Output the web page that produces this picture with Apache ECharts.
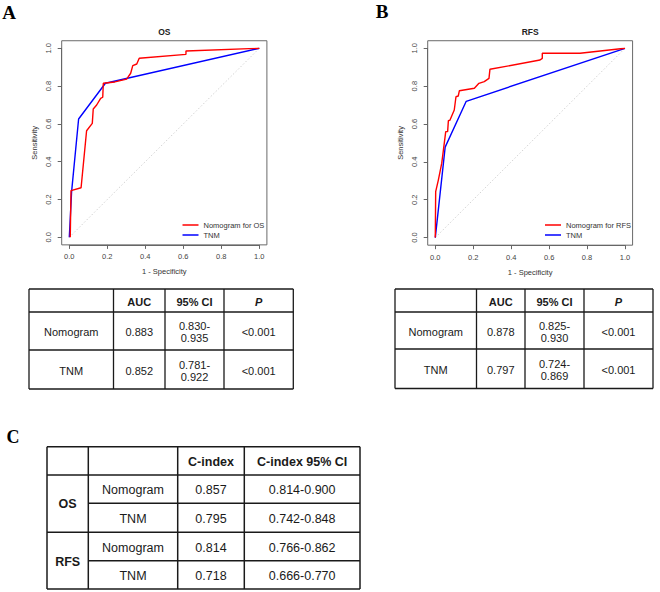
<!DOCTYPE html>
<html>
<head>
<meta charset="utf-8">
<script src="https://cdn.jsdelivr.net/npm/echarts@6/dist/echarts.min.js"></script>
<style>
  html, body { margin: 0; padding: 0; background: #fff; }
  #fig { width: 660px; height: 592px; }
</style>
</head>
<body>
<div id="fig"></div>
<script>
// ROC curves: [1 - specificity, sensitivity]
var osNomogram = [[0.005,0],[0.009,0.247],[0.062,0.262],[0.091,0.564],[0.121,0.603],[0.126,0.679],[0.144,0.700],[0.165,0.735],[0.176,0.741],[0.179,0.815],[0.240,0.822],[0.302,0.837],[0.323,0.868],[0.334,0.908],[0.355,0.917],[0.368,0.947],[0.614,0.968],[0.614,0.986],[1,1]];
var osTnm = [[0,0],[0.012,0.24],[0.049,0.626],[0.190,0.815],[1,1]];
var rfsNomogram = [[0,0],[0.002,0.243],[0.016,0.304],[0.034,0.393],[0.055,0.560],[0.065,0.560],[0.069,0.618],[0.077,0.620],[0.100,0.674],[0.109,0.744],[0.121,0.748],[0.127,0.776],[0.206,0.789],[0.230,0.815],[0.258,0.824],[0.283,0.841],[0.288,0.889],[0.552,0.938],[0.564,0.947],[0.564,0.974],[0.763,0.974],[1,1]];
var rfsTnm = [[0,0],[0.052,0.478],[0.163,0.720],[1,1]];
var chance = [[0,0],[1,1]];

// tables
var aucHeader = ['', 'AUC', '95% CI', 'P'];
var osAucRows = [
  ['Nomogram', '0.883', '0.830-\n0.935', '<0.001'],
  ['TNM', '0.852', '0.781-\n0.922', '<0.001']
];
var rfsAucRows = [
  ['Nomogram', '0.878', '0.825-\n0.930', '<0.001'],
  ['TNM', '0.797', '0.724-\n0.869', '<0.001']
];
var cHeader = ['', '', 'C-index', 'C-index 95% CI'];
var cGroups = ['OS', 'RFS'];
var cModels = ['Nomogram', 'TNM'];
var cValues = [
  ['0.857', '0.814-0.900'],
  ['0.795', '0.742-0.848'],
  ['0.814', '0.766-0.862'],
  ['0.718', '0.666-0.770']
];

var sans = '"Liberation Sans", Arial, sans-serif';
var serif = '"Liberation Serif", "Times New Roman", serif';
var ink = '#1a1a1a';

var chart = echarts.init(document.getElementById('fig'), null, { renderer: 'svg' });

// plot areas (data region 0..1) and R-style frame 4% wider
var plots = [
  { left: 69.3, top: 48.3, width: 190, height: 189, title: 'OS' },
  { left: 435.3, top: 48.3, width: 189.7, height: 189.3, title: 'RFS' }
];

function xAx(i) {
  return {
    gridIndex: i, type: 'value', min: 0, max: 1, interval: 0.2, offset: 7.6,
    name: '1 - Specificity', nameLocation: 'middle', nameGap: 23,
    nameTextStyle: { fontFamily: sans, fontSize: 7.5, color: '#333' },
    axisLine: { show: true, onZero: false, lineStyle: { color: '#666', width: 1 } },
    axisTick: { show: true, length: 4, lineStyle: { color: '#666' } },
    axisLabel: { margin: 8, fontFamily: sans, fontSize: 7.5, color: '#444',
      formatter: function (v) { return v.toFixed(1); } },
    splitLine: { show: false }
  };
}
function yAx(i) {
  return {
    gridIndex: i, type: 'value', min: 0, max: 1, interval: 0.2, offset: 7.6,
    name: 'Sensitivity', nameLocation: 'middle', nameGap: 23, nameRotate: 90,
    nameTextStyle: { fontFamily: sans, fontSize: 7.5, color: '#333' },
    axisLine: { show: true, onZero: false, lineStyle: { color: '#666', width: 1 } },
    axisTick: { show: true, length: 4, lineStyle: { color: '#666' } },
    axisLabel: { margin: 9, rotate: 90, fontFamily: sans, fontSize: 7.5, color: '#444',
      formatter: function (v) { return v.toFixed(1); } },
    splitLine: { show: false }
  };
}
function curve(name, data, i, color) {
  return {
    name: name, type: 'line', xAxisIndex: i, yAxisIndex: i, data: data,
    symbol: 'none', smooth: false, silent: true, z: 3,
    lineStyle: { color: color, width: 1.4 }, itemStyle: { color: color }
  };
}
function diag(i) {
  return {
    type: 'line', xAxisIndex: i, yAxisIndex: i, data: chance, symbol: 'none', silent: true, z: 1,
    lineStyle: { color: '#c8c8c8', width: 0.8, type: [1.5, 2] }
  };
}

var graphic = [];
function txt(x, y, s, opt) {
  opt = opt || {};
  graphic.push({
    type: 'text', x: x, y: y, silent: true,
    style: {
      text: s, fill: opt.fill || ink, fontFamily: opt.family || sans,
      fontSize: opt.size || 11, fontWeight: opt.weight || 'normal', fontStyle: opt.style || 'normal',
      align: opt.align || 'center', verticalAlign: 'middle', lineHeight: opt.lh || 12
    }
  });
}
function seg(x1, y1, x2, y2, w) {
  graphic.push({ type: 'line', silent: true, shape: { x1: x1, y1: y1, x2: x2, y2: y2 },
    style: { stroke: ink, lineWidth: w || 1.3 } });
}

// frames around the plots
plots.forEach(function (p) {
  var ex = p.width * 0.04, ey = p.height * 0.04;
  graphic.push({ type: 'rect', silent: true,
    shape: { x: p.left - ex, y: p.top - ey, width: p.width + 2 * ex, height: p.height + 2 * ey },
    style: { fill: 'none', stroke: '#6a6a6a', lineWidth: 1 } });
});

// panel letters
txt(9, 12, 'A', { family: serif, size: 19, weight: 'bold', fill: '#000' });
txt(382, 11, 'B', { family: serif, size: 19, weight: 'bold', fill: '#000' });
txt(13, 437, 'C', { family: serif, size: 18, weight: 'bold', fill: '#000' });

// AUC tables
function aucTable(cols, rows, data) {
  var i;
  for (i = 0; i < cols.length; i++) seg(cols[i], rows[0], cols[i], rows[rows.length - 1]);
  for (i = 0; i < rows.length; i++) seg(cols[0], rows[i], cols[cols.length - 1], rows[i]);
  for (i = 1; i < aucHeader.length; i++) {
    txt((cols[i] + cols[i + 1]) / 2, (rows[0] + rows[1]) / 2 + 1, aucHeader[i],
      { weight: 'bold', style: aucHeader[i] === 'P' ? 'italic' : 'normal' });
  }
  data.forEach(function (r, ri) {
    r.forEach(function (c, ci) {
      txt((cols[ci] + cols[ci + 1]) / 2, (rows[ri + 1] + rows[ri + 2]) / 2 + 1, c);
    });
  });
}
aucTable([29, 113.5, 165, 224, 293.3], [289, 312, 350, 389], osAucRows);
aucTable([395, 476.5, 525, 584, 653], [289, 312, 349, 388.5], rfsAucRows);

// C-index table
(function () {
  var cols = [47, 88.3, 177.7, 244.3, 360];
  var rows = [446.7, 475, 503.3, 532.3, 560.7, 589];
  var i;
  for (i = 0; i < cols.length; i++) seg(cols[i], rows[0], cols[i], rows[5], 1.5);
  [0, 1, 3, 5].forEach(function (k) { seg(cols[0], rows[k], cols[4], rows[k], 1.5); });
  [2, 4].forEach(function (k) { seg(cols[1], rows[k], cols[4], rows[k], 1.5); });
  for (i = 2; i < cHeader.length; i++) {
    txt((cols[i] + cols[i + 1]) / 2, (rows[0] + rows[1]) / 2 + 1, cHeader[i], { size: 12.5, weight: 'bold' });
  }
  cGroups.forEach(function (g, gi) {
    txt((cols[0] + cols[1]) / 2, rows[1 + 2 * gi + 1] + 1, g, { size: 12.5, weight: 'bold' });
    cModels.forEach(function (m, mi) {
      var r = 1 + 2 * gi + mi;
      var yc = (rows[r] + rows[r + 1]) / 2 + 1;
      txt((cols[1] + cols[2]) / 2, yc, m, { size: 12.5 });
      txt((cols[2] + cols[3]) / 2, yc, cValues[2 * gi + mi][0], { size: 12.5 });
      txt((cols[3] + cols[4]) / 2, yc, cValues[2 * gi + mi][1], { size: 12.5 });
    });
  });
})();

var legendText = { fontFamily: sans, fontSize: 7.5, color: '#333', lineHeight: 10 };

var option = {
  backgroundColor: '#fff',
  animation: false,
  title: plots.map(function (p) {
    return { text: p.title, left: p.left + p.width / 2, top: 27, textAlign: 'center', padding: 0,
      textStyle: { fontFamily: sans, fontSize: 8.5, fontWeight: 'bold', color: '#222' } };
  }),
  legend: [
    { left: 182.5, top: 220, orient: 'vertical', padding: 0, itemGap: 0, icon: 'rect',
      itemWidth: 16, itemHeight: 1.5, selectedMode: false, textStyle: legendText,
      data: ['Nomogram for OS', { name: 'TNM' }] },
    { left: 545, top: 220, orient: 'vertical', padding: 0, itemGap: 0, icon: 'rect',
      itemWidth: 16, itemHeight: 1.5, selectedMode: false, textStyle: legendText,
      data: ['Nomogram for RFS', { name: 'TNM' }] }
  ],
  grid: plots.map(function (p) {
    return { left: p.left, top: p.top, width: p.width, height: p.height, containLabel: false };
  }),
  xAxis: [xAx(0), xAx(1)],
  yAxis: [yAx(0), yAx(1)],
  series: [
    diag(0), diag(1),
    curve('TNM', osTnm, 0, '#0000ff'),
    curve('Nomogram for OS', osNomogram, 0, '#ff0000'),
    curve('TNM', rfsTnm, 1, '#0000ff'),
    curve('Nomogram for RFS', rfsNomogram, 1, '#ff0000')
  ],
  graphic: graphic
};
chart.setOption(option);

window.addEventListener('resize', function () {
  chart.resize();
});
</script>
</body>
</html>
